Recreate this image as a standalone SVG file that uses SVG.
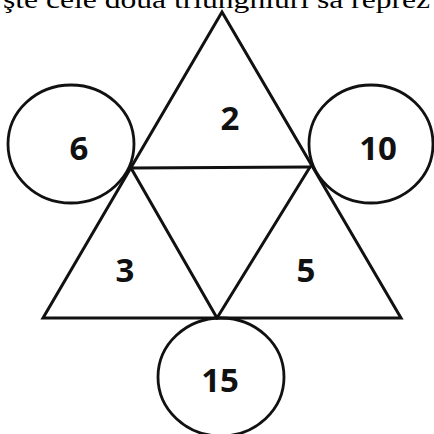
<svg xmlns="http://www.w3.org/2000/svg" width="434" height="434" viewBox="0 0 434 434">
<style>
.ln{stroke:#111;stroke-width:3;fill:none;stroke-linejoin:miter;stroke-linecap:round}
.c{stroke:#111;stroke-width:2.8;fill:none}
.n{font-family:"Open Sans","Liberation Sans",sans-serif;font-weight:700;font-size:33px;fill:#111;text-anchor:middle}
.t{font-family:"Liberation Serif","Times New Roman",serif;font-size:26px;fill:#000}
</style>
<rect width="434" height="434" fill="#fff"/>
<text class="t" x="3" y="8" textLength="427" lengthAdjust="spacingAndGlyphs">şte cele două triunghiuri să reprez</text>
<g id="connectors">
<path class="ln" d="M222,12 L43,318 L401,318 Z"/>
<path class="ln" d="M131,168 L310,167"/>
<path class="ln" d="M131,168 L217,318"/>
<path class="ln" d="M310,167 L217,318"/>
</g>
<g id="tri-2"><text class="n" x="230" y="130">2</text></g>
<g id="tri-3"><text class="n" x="125" y="282">3</text></g>
<g id="tri-5"><text class="n" x="306" y="282">5</text></g>
<g id="circle-6"><ellipse class="c" cx="71" cy="144" rx="63" ry="59"/><text class="n" x="79" y="160">6</text></g>
<g id="circle-10"><ellipse class="c" cx="371" cy="144" rx="62" ry="59"/><text class="n" x="378" y="160">10</text></g>
<g id="circle-15"><ellipse class="c" cx="221" cy="377" rx="63" ry="59"/><text class="n" x="220" y="392">15</text></g>
</svg>
